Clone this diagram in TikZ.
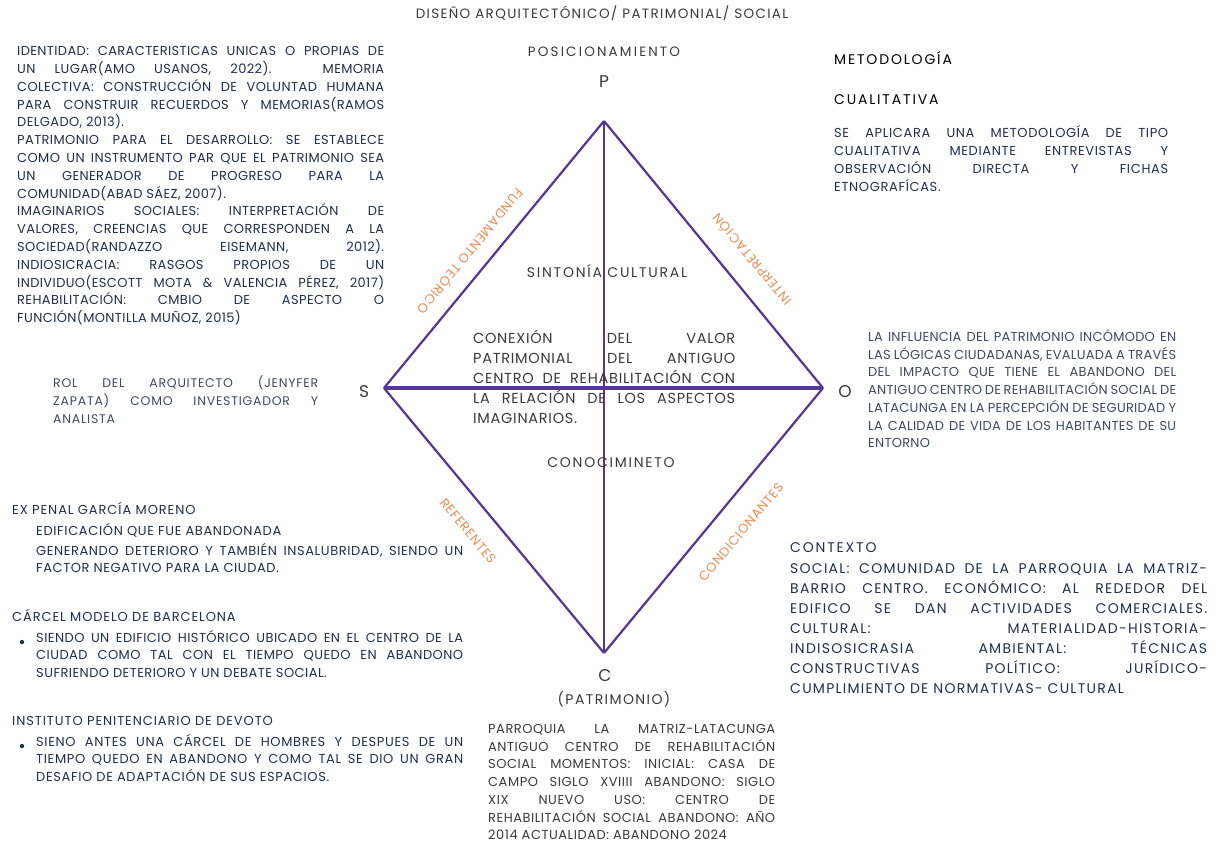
\documentclass[tikz,border=0pt]{standalone}
\usepackage{fontspec}
\setmainfont{Poppins}
\setlength{\parindent}{0pt}
\hyphenpenalty=10000
\hbadness=10000
\definecolor{navy}{HTML}{1F2F4E}
\definecolor{gris}{HTML}{3A3A3A}
\definecolor{grisazul}{HTML}{3E4A5E}
\definecolor{naranja}{HTML}{F28A52}
\definecolor{morado}{HTML}{55359A}
\newcommand{\letra}[3]{\fontsize{#1}{#2}\selectfont\addfontfeatures{LetterSpace=#3}}
\tikzset{
lado/.style={draw=morado,line width=2.2pt},
eje/.style={draw=morado,line width=2pt},
ejeh/.style={draw=morado,line width=3.2pt},
vertice/.style={inner sep=0pt,anchor=base,text=gris,font=\letra{17}{20}{0}},
etiqueta/.style={inner sep=0pt,text=naranja,font=\letra{13}{15}{6}},
titulo/.style={inner sep=0pt,anchor=base,text=gris,font=\letra{13.5}{16}{10}},
cabecera/.style={inner sep=0pt,anchor=base west,text=navy,font=\letra{13}{16}{7}},
bloque/.style={inner sep=0pt,anchor=north west,align=justify,text=navy,
  font=\letra{13}{17.8}{4},execute at begin node=\strut},
punto/.style={circle,fill=navy,inner sep=1.5pt}}

\begin{document}
\begin{tikzpicture}[x=1pt,y=-1pt]
\useasboundingbox (0,0) rectangle (1219,845);

\coordinate (P) at (604,121);
\coordinate (S) at (384,388);
\coordinate (O) at (823,388);
\coordinate (C) at (604,653);

\path[lado] (P) edge (O);
\path[lado] (O) edge (C);
\path[lado] (C) edge (S);
\path[lado] (S) edge (P);
\path[eje] (P) edge (C);
\path[ejeh] (S) edge (O);

\node[titulo] (titulo) at (602,19) {DISEÑO ARQUITECTÓNICO/ PATRIMONIAL/ SOCIAL};
\node[titulo,font=\letra{13.5}{16}{16}] (posic) at (604,57) {POSICIONAMIENTO};
\node[vertice] (p) at (604,88) {P};
\node[vertice] (s) at (364,397) {S};
\node[vertice] (o) at (845,397) {O};
\node[vertice] (c) at (605,681) {C};
\node[titulo,font=\letra{14}{16}{10}] (patrim) at (614,704) {(PATRIMONIO)};

\node[etiqueta,rotate=230.5] (fund) at (471,252) {FUNDAMENTO TEÓRICO};
\node[etiqueta,rotate=130] (interp) at (751,260) {INTERPRETACIÓN};
\node[etiqueta,rotate=-50.5] (refer) at (468,531) {REFERENTES};
\node[etiqueta,rotate=50] (condic) at (741,532) {CONDICIONANTES};

\node[titulo,font=\letra{14}{16}{12.5}] (sinto) at (607,278) {SINTONÍA CULTURAL};
\node[titulo,font=\letra{14}{16}{12.5}] (conoc) at (611,467) {CONOCIMINETO};
\node[bloque,text=gris,text width=262pt,font=\letra{14.5}{20}{5}] (conex) at (473,329)
  {CONEXIÓN DEL VALOR\linebreak
   PATRIMONIAL DEL ANTIGUO\linebreak
   CENTRO DE REHABILITACIÓN CON\linebreak
   LA RELACIÓN DE LOS ASPECTOS\linebreak
   IMAGINARIOS.};

\node[bloque,text width=367pt,font=\letra{13}{17.8}{3}] (identidad) at (17,43)
  {IDENTIDAD: CARACTERISTICAS UNICAS O PROPIAS DE\linebreak
   UN LUGAR(AMO USANOS, 2022). MEMORIA\linebreak
   COLECTIVA: CONSTRUCCIÓN DE VOLUNTAD HUMANA\linebreak
   PARA CONSTRUIR RECUERDOS Y MEMORIAS(RAMOS\linebreak
   DELGADO, 2013).\par
   PATRIMONIO PARA EL DESARROLLO: SE ESTABLECE\linebreak
   COMO UN INSTRUMENTO PAR QUE EL PATRIMONIO SEA\linebreak
   UN GENERADOR DE PROGRESO PARA LA\linebreak
   COMUNIDAD(ABAD SÁEZ, 2007).\par
   IMAGINARIOS SOCIALES: INTERPRETACIÓN DE\linebreak
   VALORES, CREENCIAS QUE CORRESPONDEN A LA\linebreak
   SOCIEDAD(RANDAZZO EISEMANN, 2012).\linebreak
   INDIOSICRACIA: RASGOS PROPIOS DE UN\linebreak
   INDIVIDUO(ESCOTT MOTA \& VALENCIA PÉREZ, 2017)\linebreak
   REHABILITACIÓN: CMBIO DE ASPECTO O\linebreak
   FUNCIÓN(MONTILLA MUÑOZ, 2015)};

\node[cabecera,text=black,font=\letra{14}{16}{13}] (metod) at (834,65) {METODOLOGÍA};
\node[cabecera,text=black,font=\letra{14}{16}{13}] (cualit) at (834,105) {CUALITATIVA};
\node[bloque,text width=334pt,font=\letra{13}{17.8}{5}] (aplica) at (834,125)
  {SE APLICARA UNA METODOLOGÍA DE TIPO\linebreak
   CUALITATIVA MEDIANTE ENTREVISTAS Y\linebreak
   OBSERVACIÓN DIRECTA Y FICHAS\linebreak
   ETNOGRAFÍCAS.};

\node[bloque,text=grisazul,text width=265pt,font=\letra{12.5}{18}{6}] (rol) at (53,375)
  {ROL DEL ARQUITECTO (JENYFER\linebreak
   ZAPATA) COMO INVESTIGADOR Y\linebreak
   ANALISTA};

\node[bloque,text=grisazul,text width=308pt,font=\letra{13}{17.7}{2}] (influ) at (868,329)
  {LA INFLUENCIA DEL PATRIMONIO INCÓMODO EN\linebreak
   LAS LÓGICAS CIUDADANAS, EVALUADA A TRAVÉS\linebreak
   DEL IMPACTO QUE TIENE EL ABANDONO DEL\linebreak
   ANTIGUO CENTRO DE REHABILITACIÓN SOCIAL DE\linebreak
   LATACUNGA EN LA PERCEPCIÓN DE SEGURIDAD Y\linebreak
   LA CALIDAD DE VIDA DE LOS HABITANTES DE SU\linebreak
   ENTORNO};

\node[cabecera] (penal) at (12,514.5) {EX PENAL GARCÍA MORENO};
\node[cabecera,font=\letra{13}{16}{5}] (edif) at (36,535.5) {EDIFICACIÓN QUE FUE ABANDONADA};
\node[bloque,text width=427pt,font=\letra{13}{17.5}{4.5}] (gener) at (36,543)
  {GENERANDO DETERIORO Y TAMBIÉN INSALUBRIDAD, SIENDO UN\linebreak
   FACTOR NEGATIVO PARA LA CIUDAD.};

\node[cabecera] (modelo) at (12,621.5) {CÁRCEL MODELO DE BARCELONA};
\node[punto] (b1) at (22,642) {};
\node[bloque,text width=427pt,font=\letra{13}{17.5}{3.5}] (siendo) at (36,630)
  {SIENDO UN EDIFICIO HISTÓRICO UBICADO EN EL CENTRO DE LA\linebreak
   CIUDAD COMO TAL CON EL TIEMPO QUEDO EN ABANDONO\linebreak
   SUFRIENDO DETERIORO Y UN DEBATE SOCIAL.};

\node[cabecera] (devoto) at (12,725.5) {INSTITUTO PENITENCIARIO DE DEVOTO};
\node[punto] (b2) at (22,746) {};
\node[bloque,text width=427pt,font=\letra{13}{17.5}{5}] (sieno) at (36,734)
  {SIENO ANTES UNA CÁRCEL DE HOMBRES Y DESPUES DE UN\linebreak
   TIEMPO QUEDO EN ABANDONO Y COMO TAL SE DIO UN GRAN\linebreak
   DESAFIO DE ADAPTACIÓN DE SUS ESPACIOS.};

\node[bloque,text=gris,text width=287pt,font=\letra{13}{17.7}{4}] (parroq) at (488,721)
  {PARROQUIA LA MATRIZ-LATACUNGA\linebreak
   ANTIGUO CENTRO DE REHABILITACIÓN\linebreak
   SOCIAL MOMENTOS: INICIAL: CASA DE\linebreak
   CAMPO SIGLO XVIIII ABANDONO: SIGLO\linebreak
   XIX NUEVO USO: CENTRO DE\linebreak
   REHABILITACIÓN SOCIAL ABANDONO: AÑO\linebreak
   2014 ACTUALIDAD: ABANDONO 2024};

\node[cabecera,font=\letra{14}{16}{13}] (contexto) at (790,552) {CONTEXTO};
\node[bloque,text width=417pt,font=\letra{14}{20}{9}] (social) at (790,559)
  {SOCIAL: COMUNIDAD DE LA PARROQUIA LA MATRIZ-\linebreak
   BARRIO CENTRO. ECONÓMICO: AL REDEDOR DEL\linebreak
   EDIFICO SE DAN ACTIVIDADES COMERCIALES.\linebreak
   CULTURAL: MATERIALIDAD-HISTORIA-\linebreak
   INDISOSICRASIA AMBIENTAL: TÉCNICAS\linebreak
   CONSTRUCTIVAS POLÍTICO: JURÍDICO-\linebreak
   CUMPLIMIENTO DE NORMATIVAS- CULTURAL};

\end{tikzpicture}
\end{document}
